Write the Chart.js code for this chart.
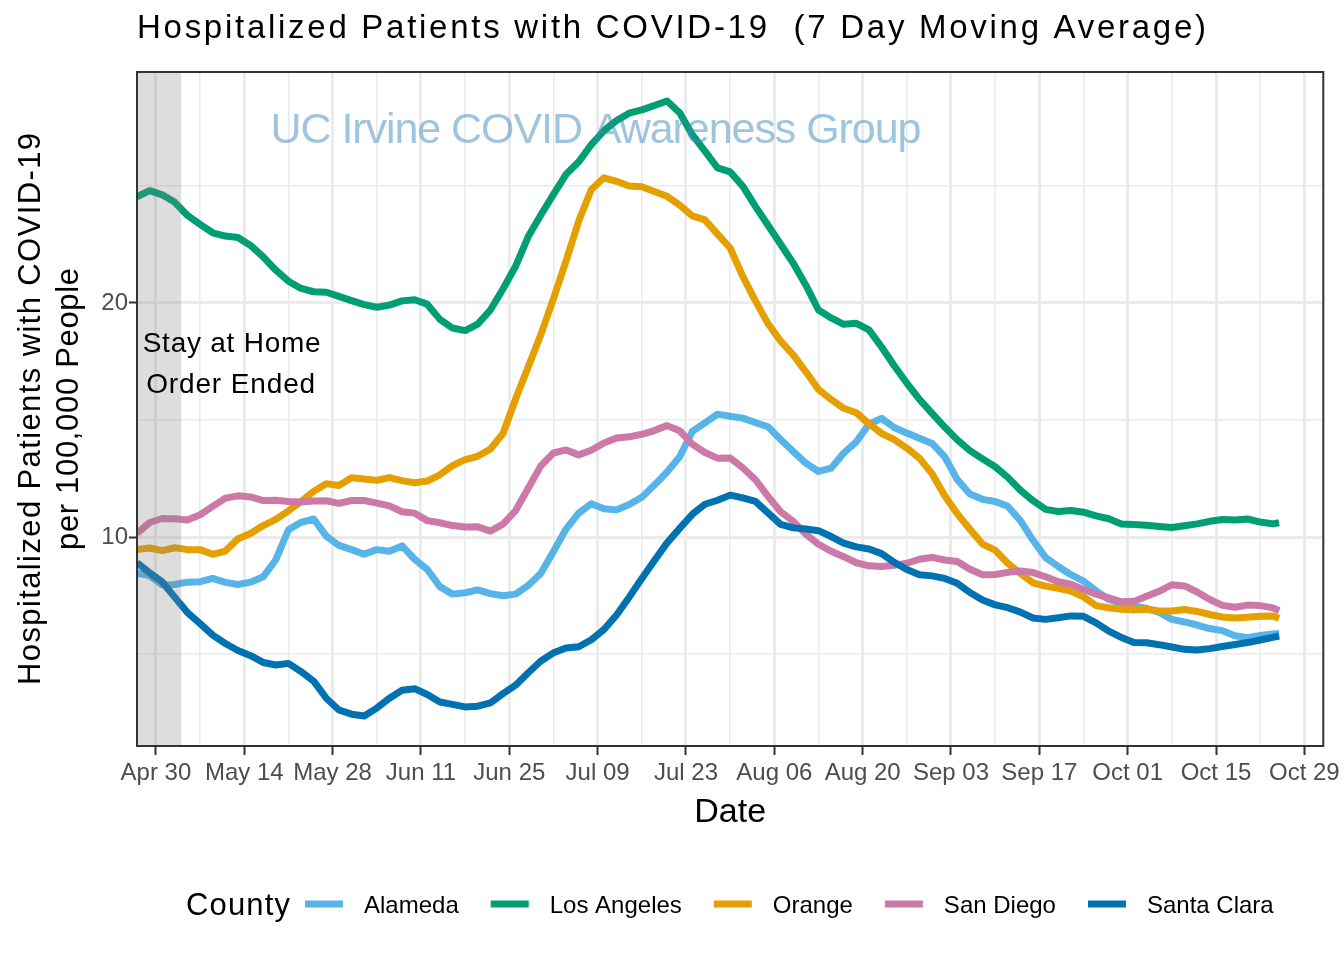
<!DOCTYPE html>
<html>
<head>
<meta charset="utf-8">
<script src="https://cdn.jsdelivr.net/npm/chart.js@4.4.1/dist/chart.umd.min.js"></script>
<style>
  html, body { margin: 0; padding: 0; background: #ffffff; }
  #wrap { width: 1344px; height: 960px; position: relative; }
</style>
</head>
<body>
<div id="wrap"><canvas id="c" width="1344" height="960"></canvas></div>
<script>
// ---------------- data ----------------
const counties = ['Alameda', 'Los Angeles', 'Orange', 'San Diego', 'Santa Clara'];
const countyColors = ['#56B4E9', '#009E73', '#E69F00', '#CC79A7', '#0072B2'];

// days relative to 2020-04-30
const dayOffsets = [-3,-1,1,3,5,7,9,11,13,15,17,19,21,23,25,27,29,31,33,35,37,39,41,43,45,47,49,51,53,55,57,59,61,63,65,67,69,71,73,75,77,79,81,83,85,87,89,91,93,95,97,99,101,103,105,107,109,111,113,115,117,119,121,123,125,127,129,131,133,135,137,139,141,143,145,147,149,151,153,155,157,159,161,163,165,167,169,171,173,175,177,178];

const alameda = [8.45,8.35,7.95,7.97,8.07,8.09,8.23,8.06,7.97,8.07,8.3,9.03,10.31,10.63,10.77,10.04,9.64,9.46,9.26,9.46,9.39,9.62,9.05,8.61,7.88,7.56,7.62,7.74,7.58,7.49,7.56,7.93,8.45,9.38,10.34,11.02,11.42,11.21,11.16,11.39,11.7,12.22,12.78,13.43,14.51,14.88,15.25,15.16,15.08,14.89,14.71,14.17,13.65,13.16,12.8,12.94,13.59,14.07,14.82,15.07,14.68,14.44,14.22,14.0,13.43,12.45,11.84,11.61,11.52,11.31,10.7,9.86,9.12,8.74,8.39,8.12,7.7,7.33,7.16,7.06,6.95,6.78,6.48,6.37,6.24,6.09,6.0,5.78,5.7,5.79,5.86,5.88];

const losAngeles = [24.54,24.8,24.62,24.3,23.74,23.36,23.0,22.86,22.8,22.46,21.97,21.4,20.93,20.62,20.48,20.46,20.28,20.1,19.93,19.82,19.91,20.09,20.14,19.95,19.3,18.93,18.82,19.1,19.7,20.6,21.57,22.84,23.76,24.64,25.5,26.03,26.77,27.36,27.8,28.11,28.25,28.44,28.63,28.13,27.19,26.49,25.77,25.6,24.99,24.13,23.32,22.51,21.7,20.76,19.7,19.36,19.09,19.13,18.85,18.12,17.32,16.58,15.88,15.28,14.7,14.15,13.69,13.34,13.0,12.55,12.0,11.55,11.18,11.09,11.13,11.06,10.9,10.78,10.56,10.53,10.5,10.45,10.41,10.48,10.56,10.67,10.75,10.73,10.77,10.64,10.56,10.61];

const orange = [9.47,9.53,9.42,9.54,9.46,9.46,9.26,9.4,9.93,10.15,10.49,10.75,11.12,11.52,11.95,12.28,12.2,12.53,12.48,12.42,12.54,12.41,12.32,12.39,12.66,13.05,13.31,13.45,13.76,14.42,15.9,17.27,18.65,20.19,21.8,23.5,24.85,25.35,25.2,25.0,24.97,24.76,24.56,24.18,23.72,23.55,22.94,22.35,21.14,20.09,19.12,18.37,17.78,17.06,16.3,15.88,15.5,15.31,14.84,14.43,14.16,13.8,13.37,12.7,11.76,10.99,10.33,9.7,9.44,8.88,8.44,8.04,7.9,7.81,7.69,7.44,7.07,6.98,6.91,6.89,6.91,6.84,6.84,6.9,6.82,6.69,6.58,6.54,6.57,6.61,6.62,6.53];

const sanDiego = [10.16,10.62,10.79,10.78,10.73,10.95,11.31,11.66,11.76,11.71,11.56,11.57,11.52,11.5,11.54,11.55,11.44,11.56,11.56,11.45,11.33,11.08,11.02,10.7,10.61,10.49,10.43,10.44,10.25,10.55,11.13,12.08,13.04,13.59,13.72,13.51,13.71,14.02,14.23,14.28,14.39,14.55,14.76,14.54,13.97,13.61,13.37,13.38,12.96,12.45,11.74,11.08,10.67,10.12,9.69,9.39,9.16,8.9,8.77,8.74,8.79,8.88,9.05,9.13,9.02,8.95,8.62,8.39,8.4,8.49,8.55,8.48,8.3,8.09,7.98,7.76,7.56,7.4,7.23,7.25,7.47,7.68,7.96,7.91,7.65,7.33,7.08,7.0,7.09,7.07,6.97,6.85];

const santaClara = [8.9,8.47,8.08,7.42,6.77,6.3,5.81,5.45,5.15,4.93,4.64,4.53,4.6,4.25,3.84,3.11,2.61,2.43,2.35,2.69,3.11,3.45,3.52,3.27,2.95,2.85,2.74,2.77,2.91,3.31,3.67,4.2,4.7,5.05,5.26,5.31,5.61,6.05,6.67,7.43,8.23,9.0,9.75,10.37,10.97,11.4,11.57,11.79,11.67,11.52,11.03,10.54,10.39,10.34,10.27,10.02,9.74,9.58,9.49,9.29,8.92,8.61,8.39,8.34,8.23,8.02,7.63,7.31,7.1,6.98,6.79,6.54,6.48,6.55,6.63,6.61,6.33,5.98,5.71,5.49,5.48,5.4,5.3,5.2,5.17,5.23,5.32,5.41,5.49,5.6,5.71,5.77];

const seriesValues = [alameda, losAngeles, orange, sanDiego, santaClara];

// axes
const xGridDays = [0,7,14,21,28,35,42,49,56,63,70,77,84,91,98,105,112,119,126,133,140,147,154,161,168,175,182];
const xTickLabels = ['Apr 30','May 14','May 28','Jun 11','Jun 25','Jul 09','Jul 23','Aug 06','Aug 20','Sep 03','Sep 17','Oct 01','Oct 15','Oct 29'];
const yGridValues = [5, 10, 15, 20, 25];
const yTickValues = [10, 20];
const xRange = [-3, 185];
const yRange = [1.07, 29.87];

// annotations
const shadeDays = [-3, 4];
const noteLines = ['Stay at Home', 'Order Ended'];
const notePos = { day: 12, value: 17.9 };
const titleText = 'Hospitalized Patients with COVID-19  (7 Day Moving Average)';
const watermarkText = 'UC Irvine COVID Awareness Group';
const yTitleLines = ['Hospitalized Patients with COVID-19', 'per 100,000 People'];
const xTitleText = 'Date';
const legendTitle = 'County';

// ---------------- helpers ----------------
const FONT = '"Liberation Sans", Arial, Helvetica, sans-serif';

function fitText(ctx, text, x, y, o) {
  const font = o.font, color = o.color || '#000000', width = o.width, align = o.align || 'left';
  ctx.save();
  ctx.translate(x, y);
  if (o.rotate) ctx.rotate(o.rotate);
  ctx.font = font;
  ctx.fillStyle = color;
  ctx.textBaseline = 'alphabetic';
  ctx.textAlign = 'left';
  const nat = ctx.measureText(text).width;
  let total = nat, sx = 1;
  if (width) {
    if ('letterSpacing' in ctx) {
      const sp = (width - nat) / Math.max(1, text.length - 1);
      ctx.letterSpacing = sp.toFixed(3) + 'px';
    } else {
      sx = width / nat;
    }
    total = width;
  }
  const left = align === 'center' ? -total / 2 : (align === 'right' ? -total : 0);
  ctx.scale(sx, 1);
  ctx.fillText(text, left / sx, 0);
  ctx.restore();
  return total;
}

const decorPlugin = {
  id: 'decor',
  afterDatasetsDraw(chart) {
    const ctx = chart.ctx, a = chart.chartArea;
    const xs = chart.scales.x, ys = chart.scales.y;
    // shaded stay-at-home period (drawn over the lines, semi transparent)
    ctx.save();
    const x0 = xs.getPixelForValue(shadeDays[0]), x1 = xs.getPixelForValue(shadeDays[1]);
    ctx.fillStyle = 'rgba(128,128,128,0.27)';
    ctx.fillRect(x0, a.top, x1 - x0, a.bottom - a.top);
    ctx.restore();
    // annotation text
    const nx = xs.getPixelForValue(notePos.day), ny = ys.getPixelForValue(notePos.value);
    fitText(ctx, noteLines[0], nx, ny, { font: '28px ' + FONT, width: 178, align: 'center' });
    fitText(ctx, noteLines[1], nx - 1, ny + 41, { font: '28px ' + FONT, width: 169, align: 'center' });
    // watermark
    fitText(ctx, watermarkText, 596, 143, { font: '43px ' + FONT, width: 651, align: 'center', color: 'rgba(61,137,189,0.5)' });
    // panel border
    ctx.save();
    ctx.strokeStyle = '#333333';
    ctx.lineWidth = 2;
    ctx.strokeRect(a.left, a.top, a.right - a.left, a.bottom - a.top);
    ctx.restore();
  },
  afterDraw(chart) {
    const ctx = chart.ctx, a = chart.chartArea;
    // title
    fitText(ctx, titleText, 137, 38, { font: '33px ' + FONT, width: 1069 });
    // y axis title (two lines, rotated)
    const cy = (a.top + a.bottom) / 2;
    fitText(ctx, yTitleLines[0], 40, cy, { font: '31px ' + FONT, width: 552, align: 'center', rotate: -Math.PI / 2 });
    fitText(ctx, yTitleLines[1], 78, cy, { font: '31px ' + FONT, width: 282, align: 'center', rotate: -Math.PI / 2 });
    // x axis title
    fitText(ctx, xTitleText, (a.left + a.right) / 2, 822, { font: '34px ' + FONT, align: 'center' });
    // legend
    let lx = 186;
    const ly = 904;
    lx += fitText(ctx, legendTitle, lx, 915, { font: '31px ' + FONT, width: 104 }) + 15;
    chart.data.datasets.forEach((ds) => {
      ctx.save();
      ctx.strokeStyle = ds.borderColor;
      ctx.lineWidth = 7;
      ctx.lineCap = 'butt';
      ctx.beginPath();
      ctx.moveTo(lx, ly);
      ctx.lineTo(lx + 38, ly);
      ctx.stroke();
      ctx.restore();
      lx += 38 + 21;
      lx += fitText(ctx, ds.label, lx, 913, { font: '24px ' + FONT, color: '#000000' }) + 32;
    });
  }
};

// ---------------- chart ----------------
const datasets = counties.map((name, i) => ({
  label: name,
  data: dayOffsets.map((d, k) => ({ x: d, y: seriesValues[i][k] })),
  borderColor: countyColors[i],
  backgroundColor: countyColors[i],
  borderWidth: 7,
  pointRadius: 0,
  pointHoverRadius: 0,
  tension: 0,
  fill: false,
  borderJoinStyle: 'round',
  borderCapStyle: 'butt',
  order: counties.length - 1 - i
}));

new Chart(document.getElementById('c'), {
  type: 'line',
  data: { datasets },
  options: {
    responsive: false,
    animation: false,
    devicePixelRatio: 1,
    events: [],
    layout: { padding: { top: 72, right: 18, bottom: 0, left: 0 } },
    plugins: { legend: { display: false }, title: { display: false }, tooltip: { enabled: false } },
    scales: {
      x: {
        type: 'linear',
        min: xRange[0],
        max: xRange[1],
        afterBuildTicks: (s) => { s.ticks = xGridDays.map(v => ({ value: v })); },
        afterFit: (s) => { s.height = 214; },
        border: { display: false },
        grid: {
          color: '#ebebeb',
          lineWidth: (c) => (c.tick && c.tick.value % 14 === 0) ? 3 : 1.6,
          tickLength: 9,
          tickWidth: 2,
          tickColor: (c) => (c.tick && c.tick.value % 14 === 0) ? '#333333' : 'rgba(0,0,0,0)'
        },
        ticks: {
          autoSkip: false,
          maxRotation: 0,
          minRotation: 0,
          padding: 4,
          color: '#4d4d4d',
          font: { family: FONT, size: 24 },
          callback: (v) => (v % 14 === 0 ? xTickLabels[v / 14] : '')
        }
      },
      y: {
        type: 'linear',
        min: yRange[0],
        max: yRange[1],
        afterBuildTicks: (s) => { s.ticks = yGridValues.map(v => ({ value: v })); },
        afterFit: (s) => { s.width = 137; },
        border: { display: false },
        grid: {
          color: '#ebebeb',
          lineWidth: (c) => (c.tick && yTickValues.includes(c.tick.value)) ? 3 : 1.6,
          tickLength: 8,
          tickWidth: 2,
          tickColor: (c) => (c.tick && yTickValues.includes(c.tick.value)) ? '#333333' : 'rgba(0,0,0,0)'
        },
        ticks: {
          autoSkip: false,
          padding: 1,
          color: '#4d4d4d',
          font: { family: FONT, size: 24 },
          callback: (v) => (yTickValues.includes(v) ? String(v) : '')
        }
      }
    }
  },
  plugins: [decorPlugin]
});
</script>
</body>
</html>
